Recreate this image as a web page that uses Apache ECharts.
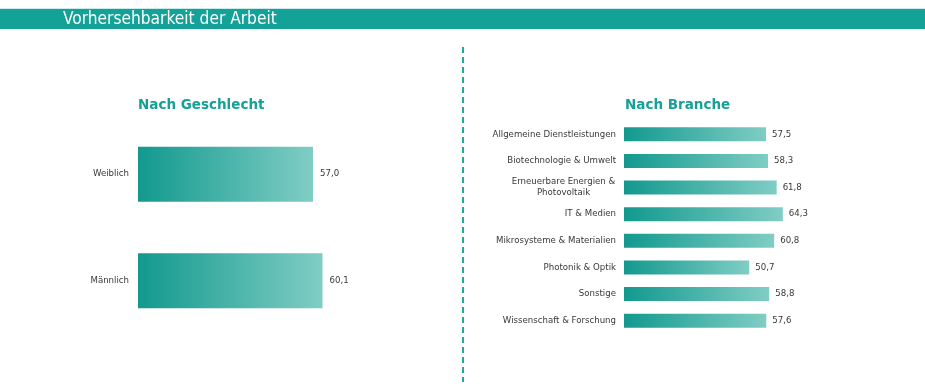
<!DOCTYPE html>
<html>
<head>
<meta charset="utf-8">
<script src="https://cdn.jsdelivr.net/npm/echarts@6/dist/echarts.min.js"></script>
<style>
html,body{margin:0;padding:0;background:#fff;}
#c{width:925px;height:391px;}
</style>
</head>
<body>
<div id="c"></div>
<script>
var pageTitle = 'Vorhersehbarkeit der Arbeit';
var genderTitle = 'Nach Geschlecht';
var genderCategories = ['Weiblich', 'Männlich'];
var genderValues = [57.0, 60.1];
var branchTitle = 'Nach Branche';
var branchCategories = [
  'Allgemeine Dienstleistungen',
  'Biotechnologie & Umwelt',
  'Erneuerbare Energien &\nPhotovoltaik',
  'IT & Medien',
  'Mikrosysteme & Materialien',
  'Photonik & Optik',
  'Sonstige',
  'Wissenschaft & Forschung'
];
var branchValues = [57.5, 58.3, 61.8, 64.3, 60.8, 50.7, 58.8, 57.6];

var FONT = 'DejaVu Sans';
var TXT = '#383838';
function grad() {
  return new echarts.graphic.LinearGradient(0, 0, 1, 0, [
    {offset: 0, color: '#12998e'},
    {offset: 1, color: '#80cdc4'}
  ]);
}
function fmt(p) { return p.value.toFixed(1).replace('.', ','); }

var chart = echarts.init(document.getElementById('c'));
chart.setOption({
  animation: false,
  backgroundColor: '#ffffff',
  title: [
    {text: genderTitle, left: 133, top: 93,
     textStyle: {color: '#16a096', fontFamily: FONT, fontWeight: 'bold', fontSize: 13.5}},
    {text: branchTitle, left: 620, top: 93,
     textStyle: {color: '#16a096', fontFamily: FONT, fontWeight: 'bold', fontSize: 13.5}}
  ],
  graphic: [
    {type: 'rect', shape: {x: 0, y: 9, width: 925, height: 20}, style: {fill: '#13a198'}, z: 0},
    {type: 'rect', shape: {x: 0, y: 8, width: 925, height: 1}, style: {fill: '#c8ecea'}, z: 0},
    {type: 'text', x: 63, y: 20, style: {text: pageTitle, fill: '#ffffff', font: '17.2px "DejaVu Sans Condensed", "DejaVu Sans"', textVerticalAlign: 'middle'}, z: 1},
    {type: 'line', shape: {x1: 463, y1: 47, x2: 463, y2: 382},
     style: {stroke: '#22a99d', lineWidth: 2, lineDash: [6, 4]}, z: 1}
  ],
  grid: [
    {left: 138, top: 121, width: 307, height: 213},
    {left: 624, top: 121, width: 247, height: 213}
  ],
  xAxis: [
    {gridIndex: 0, type: 'value', min: 0, max: 100, show: false},
    {gridIndex: 1, type: 'value', min: 0, max: 100, show: false}
  ],
  yAxis: [
    {gridIndex: 0, type: 'category', data: genderCategories, inverse: true,
     axisLine: {show: false}, axisTick: {show: false},
     axisLabel: {color: TXT, fontFamily: FONT, fontSize: 8.6, margin: 9}},
    {gridIndex: 1, type: 'category', data: branchCategories, inverse: true,
     axisLine: {show: false}, axisTick: {show: false},
     axisLabel: {color: TXT, fontFamily: FONT, fontSize: 8.6, margin: 8, lineHeight: 11,
       formatter: function (v) {
         if (v.indexOf('\n') >= 0) {
           return v.split('\n').map(function (s) { return '{c|' + s + '}'; }).join('\n');
         }
         return v;
       },
       rich: {c: {width: 105, align: 'center', fontFamily: FONT, fontSize: 8.6, color: TXT, lineHeight: 11}}
     }}
  ],
  series: [
    {type: 'bar', xAxisIndex: 0, yAxisIndex: 0, data: genderValues, barWidth: 55,
     itemStyle: {color: grad()},
     label: {show: true, position: 'right', distance: 7, color: TXT, fontFamily: FONT, fontSize: 8.6, formatter: fmt}},
    {type: 'bar', xAxisIndex: 1, yAxisIndex: 1, data: branchValues, barWidth: 14,
     itemStyle: {color: grad()},
     label: {show: true, position: 'right', distance: 6, color: TXT, fontFamily: FONT, fontSize: 8.6, formatter: fmt}}
  ]
});
</script>
</body>
</html>
